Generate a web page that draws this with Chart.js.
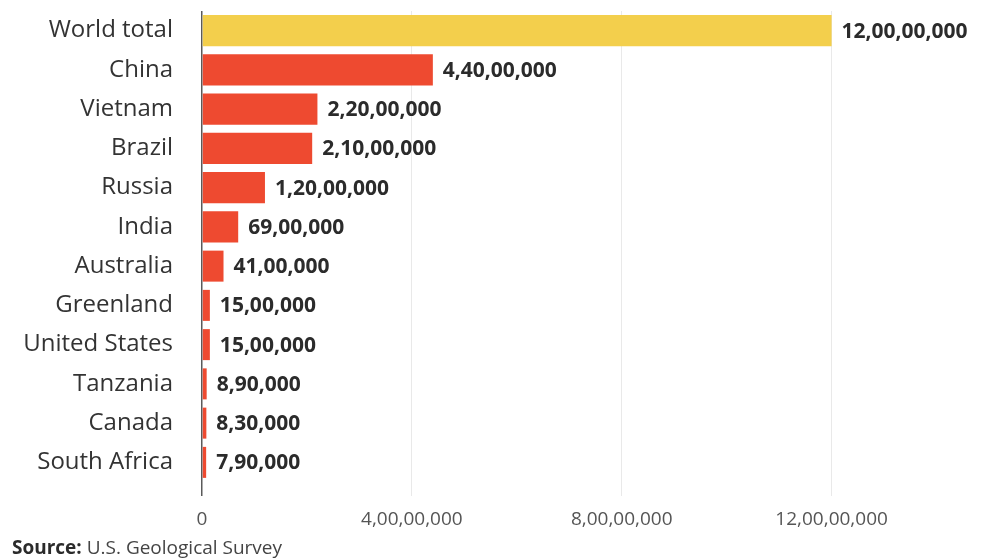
<!DOCTYPE html>
<html>
<head>
<meta charset="utf-8">
<script src="https://cdn.jsdelivr.net/npm/chart.js@4"></script>
<style>
  html, body { margin: 0; padding: 0; background: #fff; }
  #wrap { width: 989px; height: 558px; position: relative; }
</style>
</head>
<body>
<div id="wrap"><canvas id="ch"></canvas></div>
<script>
/* Rare earth production bar chart (Chart.js v4). */
var COUNTRIES = ["World total", "China", "Vietnam", "Brazil", "Russia", "India", "Australia",
                 "Greenland", "United States", "Tanzania", "Canada", "South Africa"];
var VALUES = [120000000, 44000000, 22000000, 21000000, 12000000, 6900000, 4100000,
              1500000, 1500000, 890000, 830000, 790000];
var X_TICKS = [0, 40000000, 80000000, 120000000];
var SOURCE = ["Source:", " U.S. Geological Survey"];

var YELLOW = "#f3cf4c", RED = "#ee4a30", INK = "#2b2b2b", GRID = "#e9e9e9", AXIS = "#5a5a5a";
var FONT = "'Open Sans', sans-serif";

// Indian digit grouping: 12,00,00,000
function inr(v) {
  var s = String(Math.round(v));
  if (s.length <= 3) return s;
  var last = s.slice(-3), rest = s.slice(0, -3);
  return rest.replace(/\B(?=(\d{2})+(?!\d))/g, ",") + "," + last;
}

var valueLabels = {
  id: "valueLabels",
  afterDatasetsDraw: function (chart) {
    var ctx = chart.ctx, meta = chart.getDatasetMeta(0);
    ctx.save();
    ctx.font = "bold 21px " + FONT;
    ctx.fillStyle = INK;
    ctx.textBaseline = "middle";
    ctx.textAlign = "left";
    meta.data.forEach(function (bar, i) {
      ctx.fillText(inr(VALUES[i]), bar.x + 10, bar.y + 1);
    });
    ctx.restore();
  },
  afterDraw: function (chart) {
    var ctx = chart.ctx;
    ctx.save();
    ctx.textBaseline = "alphabetic";
    ctx.fillStyle = INK;
    ctx.font = "bold 19px " + FONT;
    ctx.fillText(SOURCE[0], 12, 554);
    var w = ctx.measureText(SOURCE[0]).width;
    ctx.font = "19px " + FONT;
    ctx.fillStyle = "#444";
    ctx.fillText(SOURCE[1], 12 + w, 554);
    ctx.restore();
  }
};

new Chart(document.getElementById("ch"), {
  type: "bar",
  data: {
    labels: COUNTRIES,
    datasets: [{
      data: VALUES,
      backgroundColor: VALUES.map(function (v, i) { return i === 0 ? YELLOW : RED; }),
      barPercentage: 0.79,
      categoryPercentage: 1
    }]
  },
  options: {
    indexAxis: "y",
    responsive: true,
    maintainAspectRatio: false,
    animation: false,
    layout: { padding: { top: 11, right: 0, left: 0, bottom: 0 } },
    plugins: { legend: { display: false }, tooltip: { enabled: false } },
    scales: {
      x: {
        min: 0, max: 150000000,
        border: { display: false },
        grid: {
          color: function (c) { return c.tick && c.tick.value === 0 ? AXIS : GRID; },
          lineWidth: function (c) { return c.tick && c.tick.value === 0 ? 1.5 : 1; },
          drawTicks: true, tickLength: 14
        },
        afterBuildTicks: function (scale) {
          scale.ticks = X_TICKS.map(function (v) { return { value: v }; });
        },
        afterFit: function (scale) { scale.height = 76; },
        ticks: {
          padding: 12, color: "#555", maxRotation: 0,
          font: { family: FONT, size: 19 },
          callback: function (v) { return inr(v); }
        }
      },
      y: {
        border: { display: false },
        grid: { display: false },
        afterFit: function (scale) {
          scale.width = 202;
          scale.paddingTop = 0;
          scale.paddingBottom = 0;
        },
        ticks: { padding: 21, color: "#333", font: { family: FONT, size: 24 } }
      }
    }
  },
  plugins: [valueLabels]
});
</script>
</body>
</html>
